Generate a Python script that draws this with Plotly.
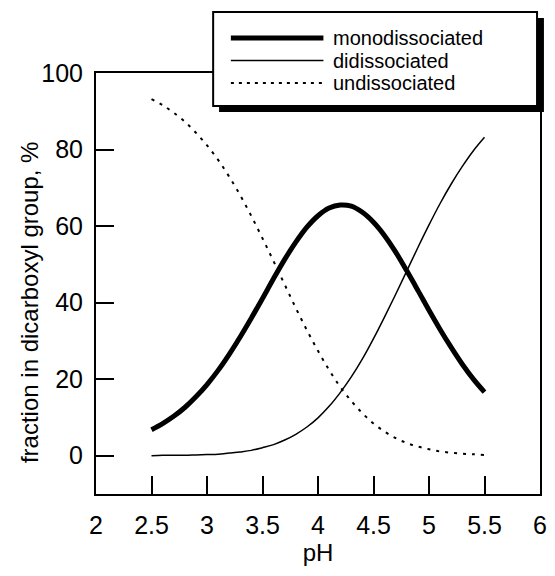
import plotly.graph_objects as go

# ---- data ----
ph = [2.5, 2.6, 2.7, 2.8, 2.9, 3.0, 3.1, 3.2, 3.3, 3.4, 3.5, 3.6, 3.7, 3.8, 3.9, 4.0,
      4.1, 4.2, 4.3, 4.4, 4.5, 4.6, 4.7, 4.8, 4.9, 5.0, 5.1, 5.2, 5.3, 5.4, 5.5]
mono = [6.8, 8.4, 10.3, 12.6, 15.4, 18.6, 22.3, 26.5, 31.1, 36.0, 41.1, 46.3, 51.3, 55.8, 59.7, 62.7,
        64.7, 65.5, 65.2, 63.6, 61.0, 57.5, 53.2, 48.3, 43.2, 38.0, 33.0, 28.3, 23.9, 20.0, 16.6]
di = [0.0, 0.1, 0.1, 0.1, 0.2, 0.3, 0.4, 0.7, 1.0, 1.4, 2.1, 2.9, 4.1, 5.6, 7.5, 9.9,
      12.9, 16.5, 20.6, 25.3, 30.6, 36.3, 42.2, 48.3, 54.4, 60.3, 65.9, 71.0, 75.6, 79.7, 83.2]
undiss = [93.2, 91.6, 89.6, 87.3, 84.4, 81.1, 77.3, 72.9, 68.0, 62.6, 56.8, 50.8, 44.7, 38.6, 32.8, 27.4,
          22.4, 18.0, 14.3, 11.1, 8.4, 6.3, 4.6, 3.3, 2.4, 1.7, 1.1, 0.8, 0.5, 0.4, 0.2]
x_ticks = [2, 2.5, 3, 3.5, 4, 4.5, 5, 5.5, 6]
x_ticktext = ["2", "2.5", "3", "3.5", "4", "4.5", "5", "5.5", "6"]
y_ticks = [0, 20, 40, 60, 80, 100]
series_names = ["monodissociated", "didissociated", "undissociated"]

W, H = 555, 576
ML, MR, MT, MB = 96, 8, 73, 82
PW, PH_ = W - ML - MR, H - MT - MB
FONT = "Liberation Sans, Arial, Helvetica, sans-serif"


def px(xp):
    return (xp - ML) / PW


def py(yp):
    return (H - MB - yp) / PH_


fig = go.Figure()
fig.add_trace(go.Scatter(x=ph, y=undiss, mode="lines", name=series_names[2],
                         line=dict(color="black", width=2, dash="3px,6px", shape="spline")))
fig.add_trace(go.Scatter(x=ph, y=di, mode="lines", name=series_names[1],
                         line=dict(color="black", width=1.5, shape="spline")))
fig.add_trace(go.Scatter(x=ph, y=mono, mode="lines", name=series_names[0],
                         line=dict(color="black", width=5, shape="spline")))

shapes = []
# legend shadow and box
shapes.append(dict(type="rect", xref="paper", yref="paper", layer="above",
                   x0=px(221), x1=px(551), y0=py(112), y1=py(18),
                   fillcolor="black", line=dict(width=0)))
shapes.append(dict(type="rect", xref="paper", yref="paper", layer="above",
                   x0=px(215), x1=px(544), y0=py(106), y1=py(12),
                   fillcolor="white", line=dict(color="black", width=2)))
legend_y = [38, 60.5, 83]
legend_w = [5, 1.5, 2]
legend_dash = ["solid", "solid", "3px,5px"]
annotations = []
for name, yy, lw, dsh in zip(series_names, legend_y, legend_w, legend_dash):
    shapes.append(dict(type="line", xref="paper", yref="paper", layer="above",
                       x0=px(233), x1=px(327), y0=py(yy), y1=py(yy),
                       line=dict(color="black", width=lw, dash=dsh)))
    annotations.append(dict(xref="paper", yref="paper", x=px(336), y=py(yy),
                            xanchor="left", yanchor="middle", showarrow=False,
                            borderpad=0,
                            text=name, font=dict(family=FONT, size=20, color="black")))

annotations.append(dict(xref="paper", yref="paper", x=px(28), y=py(302),
                        xanchor="center", yanchor="middle", showarrow=False, textangle=-90,
                        text="fraction in dicarboxyl group, %",
                        font=dict(family=FONT, size=24, color="black")))

fig.update_layout(
    width=W, height=H,
    margin=dict(l=ML, r=MR, t=MT, b=MB, pad=0),
    paper_bgcolor="white", plot_bgcolor="white",
    showlegend=False,
    font=dict(family=FONT, size=24, color="black"),
    shapes=shapes, annotations=annotations,
    xaxis=dict(range=[2, 6], tickvals=x_ticks, ticktext=x_ticktext,
               ticks="inside", ticklen=18, tickwidth=2, tickcolor="black",
               showline=True, linecolor="black", linewidth=2, mirror=True,
               showgrid=False, zeroline=False, ticklabelstandoff=8,
               tickfont=dict(size=25),
               title=dict(text="pH", font=dict(size=24), standoff=6)),
    yaxis=dict(range=[-10, 100], tickvals=y_ticks,
               ticks="inside", ticklen=18, tickwidth=2, tickcolor="black",
               showline=True, linecolor="black", linewidth=2, mirror=True,
               showgrid=False, zeroline=False, ticklabelstandoff=6,
               tickfont=dict(size=25)),
)

fig.write_html("out.html", config={"displayModeBar": False},
               post_script="document.body.style.margin='0';document.body.style.overflow='hidden';")
